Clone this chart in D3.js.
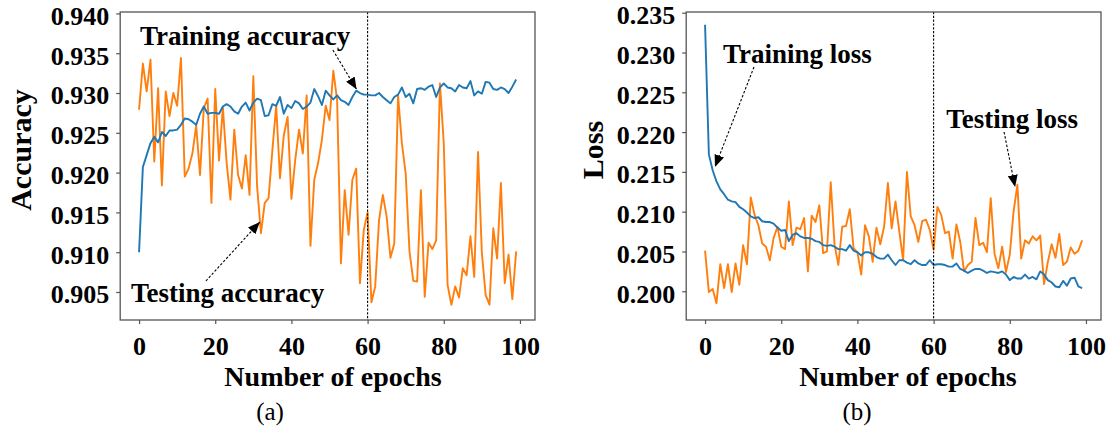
<!DOCTYPE html>
<html>
<head>
<meta charset="utf-8">
<script src="https://cdn.jsdelivr.net/npm/d3@7"></script>
<style>
  html, body { margin: 0; padding: 0; background: #fff; }
  svg { display: block; }
  text { font-family: "Liberation Serif", "Times New Roman", serif; }
</style>
</head>
<body>
<svg id="fig" width="1112" height="437"></svg>
<script>
// Training curves over 100 epochs
const epochs = d3.range(0, 100);

const trainAccuracy = [
  0.9100, 0.9207, 0.9222, 0.9237, 0.9245, 0.9238, 0.9251, 0.9246, 0.9253, 0.9253,
  0.9254, 0.9260, 0.9268, 0.9267, 0.9264, 0.9260, 0.9274, 0.9283, 0.9274, 0.9275,
  0.9275, 0.9274, 0.9283, 0.9286, 0.9283, 0.9277, 0.9274, 0.9283, 0.9288, 0.9278,
  0.9288, 0.9293, 0.9291, 0.9271, 0.9272, 0.9286, 0.9284, 0.9295, 0.9274, 0.9285,
  0.9281, 0.9290, 0.9287, 0.9280, 0.9283, 0.9288, 0.9305, 0.9296, 0.9285, 0.9303,
  0.9297, 0.9292, 0.9297, 0.9291, 0.9289, 0.9285, 0.9295, 0.9303, 0.9300, 0.9298,
  0.9298, 0.9297, 0.9297, 0.9300, 0.9295, 0.9291, 0.9287, 0.9295, 0.9298, 0.9307,
  0.9295, 0.9299, 0.9287, 0.9305, 0.9306, 0.9304, 0.9308, 0.9310, 0.9295, 0.9307,
  0.9312, 0.9307, 0.9306, 0.9302, 0.9310, 0.9307, 0.9306, 0.9315, 0.9297, 0.9302,
  0.9299, 0.9314, 0.9313, 0.9305, 0.9304, 0.9307, 0.9305, 0.9300, 0.9308, 0.9317
];

const testAccuracy = [
  0.9279, 0.9337, 0.9302, 0.9342, 0.9214, 0.9306, 0.9184, 0.9302, 0.9271, 0.9300,
  0.9284, 0.9344, 0.9195, 0.9205, 0.9224, 0.9259, 0.9197, 0.9281, 0.9293, 0.9162,
  0.9305, 0.9215, 0.9282, 0.9212, 0.9166, 0.9254, 0.9197, 0.9180, 0.9222, 0.9172,
  0.9321, 0.9182, 0.9124, 0.9162, 0.9168, 0.9228, 0.9284, 0.9193, 0.9247, 0.9270,
  0.9167, 0.9216, 0.9254, 0.9224, 0.9297, 0.9108, 0.9191, 0.9212, 0.9241, 0.9284,
  0.9266, 0.9328, 0.9291, 0.9086, 0.9178, 0.9122, 0.9191, 0.9205, 0.9061, 0.9128,
  0.9150, 0.9037, 0.9057, 0.9140, 0.9172, 0.9145, 0.9093, 0.9111, 0.9297, 0.9237,
  0.9199, 0.9101, 0.9064, 0.9063, 0.9178, 0.9044, 0.9112, 0.9104, 0.9115, 0.9312,
  0.9237, 0.9059, 0.9034, 0.9057, 0.9043, 0.9080, 0.9071, 0.9120, 0.9069, 0.9226,
  0.9099, 0.9046, 0.9034, 0.9130, 0.9092, 0.9187, 0.9061, 0.9097, 0.9041, 0.9101
];

const trainLoss = [
  0.2335, 0.2172, 0.2152, 0.2138, 0.2128, 0.2122, 0.2115, 0.2113, 0.2112, 0.2106,
  0.2103, 0.2099, 0.2094, 0.2092, 0.2093, 0.2088, 0.2087, 0.2087, 0.2085, 0.2080,
  0.2076, 0.2077, 0.2063, 0.2071, 0.2073, 0.2069, 0.2067, 0.2067, 0.2066, 0.2063,
  0.2062, 0.2058, 0.2057, 0.2058, 0.2056, 0.2053, 0.2053, 0.2051, 0.2058, 0.2051,
  0.2049, 0.2045, 0.2049, 0.2049, 0.2047, 0.2043, 0.2041, 0.2041, 0.2046, 0.2039,
  0.2033, 0.2039, 0.2039, 0.2036, 0.2034, 0.2039, 0.2035, 0.2033, 0.2033, 0.2039,
  0.2033, 0.2034, 0.2034, 0.2033, 0.2031, 0.2031, 0.2035, 0.2028, 0.2026, 0.2023,
  0.2026, 0.2028, 0.2028, 0.2026, 0.2023, 0.2025, 0.2024, 0.2023, 0.2025, 0.2021,
  0.2014, 0.2018, 0.2016, 0.2016, 0.2021, 0.2016, 0.2018, 0.2015, 0.2025, 0.2021,
  0.2014, 0.2011, 0.2006, 0.2005, 0.2013, 0.2007, 0.2016, 0.2017, 0.2006, 0.2004
];

const testLoss = [
  0.2051, 0.1999, 0.2003, 0.1985, 0.2034, 0.2004, 0.2034, 0.1999, 0.2035, 0.2008,
  0.2058, 0.2034, 0.2118, 0.2096, 0.2083, 0.2060, 0.2056, 0.2039, 0.2067, 0.2081,
  0.2056, 0.2053, 0.2113, 0.2058, 0.2080, 0.2078, 0.2092, 0.2025, 0.2095, 0.2087,
  0.2108, 0.2048, 0.2050, 0.2137, 0.2058, 0.2033, 0.2081, 0.2082, 0.2103, 0.2054,
  0.2049, 0.2021, 0.2083, 0.2069, 0.2037, 0.2080, 0.2059, 0.2081, 0.2136, 0.2079,
  0.2113, 0.2075, 0.2039, 0.2150, 0.2094, 0.2083, 0.2062, 0.2088, 0.2090, 0.2077,
  0.2052, 0.2106, 0.2096, 0.2073, 0.2075, 0.2041, 0.2084, 0.2062, 0.2025, 0.2033,
  0.2037, 0.2092, 0.2058, 0.2061, 0.2049, 0.2117, 0.2047, 0.2029, 0.2056, 0.2024,
  0.2046, 0.2100, 0.2134, 0.2041, 0.2064, 0.2060, 0.2069, 0.2064, 0.2070, 0.2009,
  0.2037, 0.2059, 0.2042, 0.2072, 0.2033, 0.2037, 0.2055, 0.2047, 0.2051, 0.2064
];

const xTicks = [0, 20, 40, 60, 80, 100];
const accuracyTicks = [0.905, 0.910, 0.915, 0.920, 0.925, 0.930, 0.935, 0.940];
const lossTicks = [0.200, 0.205, 0.210, 0.215, 0.220, 0.225, 0.230, 0.235];
const splitEpoch = 60;

const svg = d3.select("#fig");
svg.append("rect").attr("width", 1112).attr("height", 437).attr("fill", "#fff");

const defs = svg.append("defs");
defs.append("marker")
  .attr("id", "head")
  .attr("viewBox", "0 0 12 10")
  .attr("refX", 12).attr("refY", 5)
  .attr("markerWidth", 12).attr("markerHeight", 10)
  .attr("markerUnits", "userSpaceOnUse")
  .attr("orient", "auto")
  .append("path").attr("d", "M0,0 L12,5 L0,10 Z").attr("fill", "#000");

function panel(cfg) {
  const top = 12, bottom = 320;
  const x = d3.scaleLinear().domain([-4.95, 103.95]).range([cfg.left, cfg.right]);
  const y = d3.scaleLinear().domain(cfg.yDomain).range([bottom, top]);
  const g = svg.append("g");

  // series
  const line = d3.line().x((d, i) => x(epochs[i])).y(d => y(d));
  g.append("path").datum(cfg.test)
    .attr("d", line).attr("fill", "none")
    .attr("stroke", "#ff7f0e").attr("stroke-width", 1.9).attr("stroke-linejoin", "round");
  g.append("path").datum(cfg.train)
    .attr("d", line).attr("fill", "none")
    .attr("stroke", "#1f77b4").attr("stroke-width", 1.9).attr("stroke-linejoin", "round");

  // split marker at epoch 60
  g.append("line")
    .attr("x1", x(splitEpoch)).attr("x2", x(splitEpoch))
    .attr("y1", top).attr("y2", bottom)
    .attr("stroke", "#000").attr("stroke-width", 1.1)
    .attr("stroke-dasharray", "2.2,1.6");

  // frame
  g.append("rect")
    .attr("x", cfg.left).attr("y", top)
    .attr("width", cfg.right - cfg.left).attr("height", bottom - top)
    .attr("fill", "none").attr("stroke", "#555").attr("stroke-width", 1.3);

  // axes
  const xAxis = g.append("g").attr("transform", `translate(0,${bottom})`)
    .call(d3.axisBottom(x).tickValues(xTicks).tickSize(4).tickFormat(d3.format("d")));
  const yAxis = g.append("g").attr("transform", `translate(${cfg.left},0)`)
    .call(d3.axisLeft(y).tickValues(cfg.yTicks).tickSize(4).tickPadding(7).tickFormat(d3.format(".3f")));
  [xAxis, yAxis].forEach(a => {
    a.select(".domain").remove();
    a.selectAll(".tick line").attr("stroke", "#555").attr("stroke-width", 1.2);
    a.selectAll(".tick text")
      .attr("fill", "#000")
      .style("font-family", '"Liberation Serif", "Times New Roman", serif')
      .style("font-weight", "bold").style("font-size", "26px");
  });
  xAxis.selectAll(".tick text").attr("y", 35).attr("dy", 0);
  yAxis.selectAll(".tick text").attr("dy", "0.42em");

  // axis titles
  g.append("text")
    .attr("x", cfg.xLabelX).attr("y", 386)
    .attr("text-anchor", "middle")
    .style("font-weight", "bold").style("font-size", "28px")
    .text("Number of epochs");
  g.append("text")
    .attr("transform", `translate(${cfg.yLabelX},150) rotate(-90)`)
    .attr("text-anchor", "middle")
    .style("font-weight", "bold").style("font-size", "30px")
    .text(cfg.yLabel);

  // panel caption
  g.append("text")
    .attr("x", cfg.captionX).attr("y", 420)
    .attr("text-anchor", "middle")
    .style("font-size", "25px")
    .text(cfg.caption);

  // annotations
  cfg.notes.forEach(n => {
    g.append("text")
      .attr("x", x(n.text[0])).attr("y", y(n.text[1]))
      .style("font-weight", "bold").style("font-size", "27px")
      .text(n.label);
    g.append("line")
      .attr("x1", x(n.from[0])).attr("y1", y(n.from[1]))
      .attr("x2", x(n.tip[0])).attr("y2", y(n.tip[1]))
      .attr("stroke", "#000").attr("stroke-width", 1.1)
      .attr("stroke-dasharray", "2.5,1.8")
      .attr("marker-end", "url(#head)");
  });
}

panel({
  left: 120.2, right: 535,
  yDomain: [0.90148, 0.94018],
  yTicks: accuracyTicks,
  train: trainAccuracy, test: testAccuracy,
  yLabel: "Accuracy", yLabelX: 31,
  xLabelX: 333, captionX: 270, caption: "(a)",
  notes: [
    { label: "Training accuracy", text: [0.25, 0.93603], from: [50.9, 0.93540], tip: [57.1, 0.93046] },
    { label: "Testing accuracy", text: [-2.1, 0.90374], from: [17.55, 0.90638], tip: [31.7, 0.91379] }
  ]
});

panel({
  left: 686.2, right: 1101,
  yDomain: [0.19639, 0.23509],
  yTicks: lossTicks,
  train: trainLoss, test: testLoss,
  yLabel: "Loss", yLabelX: 603,
  xLabelX: 908, captionX: 857, caption: "(b)",
  notes: [
    { label: "Training loss", text: [4.7, 0.22868], from: [12.85, 0.22818], tip: [2.6, 0.21562] },
    { label: "Testing loss", text: [63.3, 0.22052], from: [78.5, 0.22001], tip: [81.4, 0.2131] }
  ]
});
</script>
</body>
</html>
